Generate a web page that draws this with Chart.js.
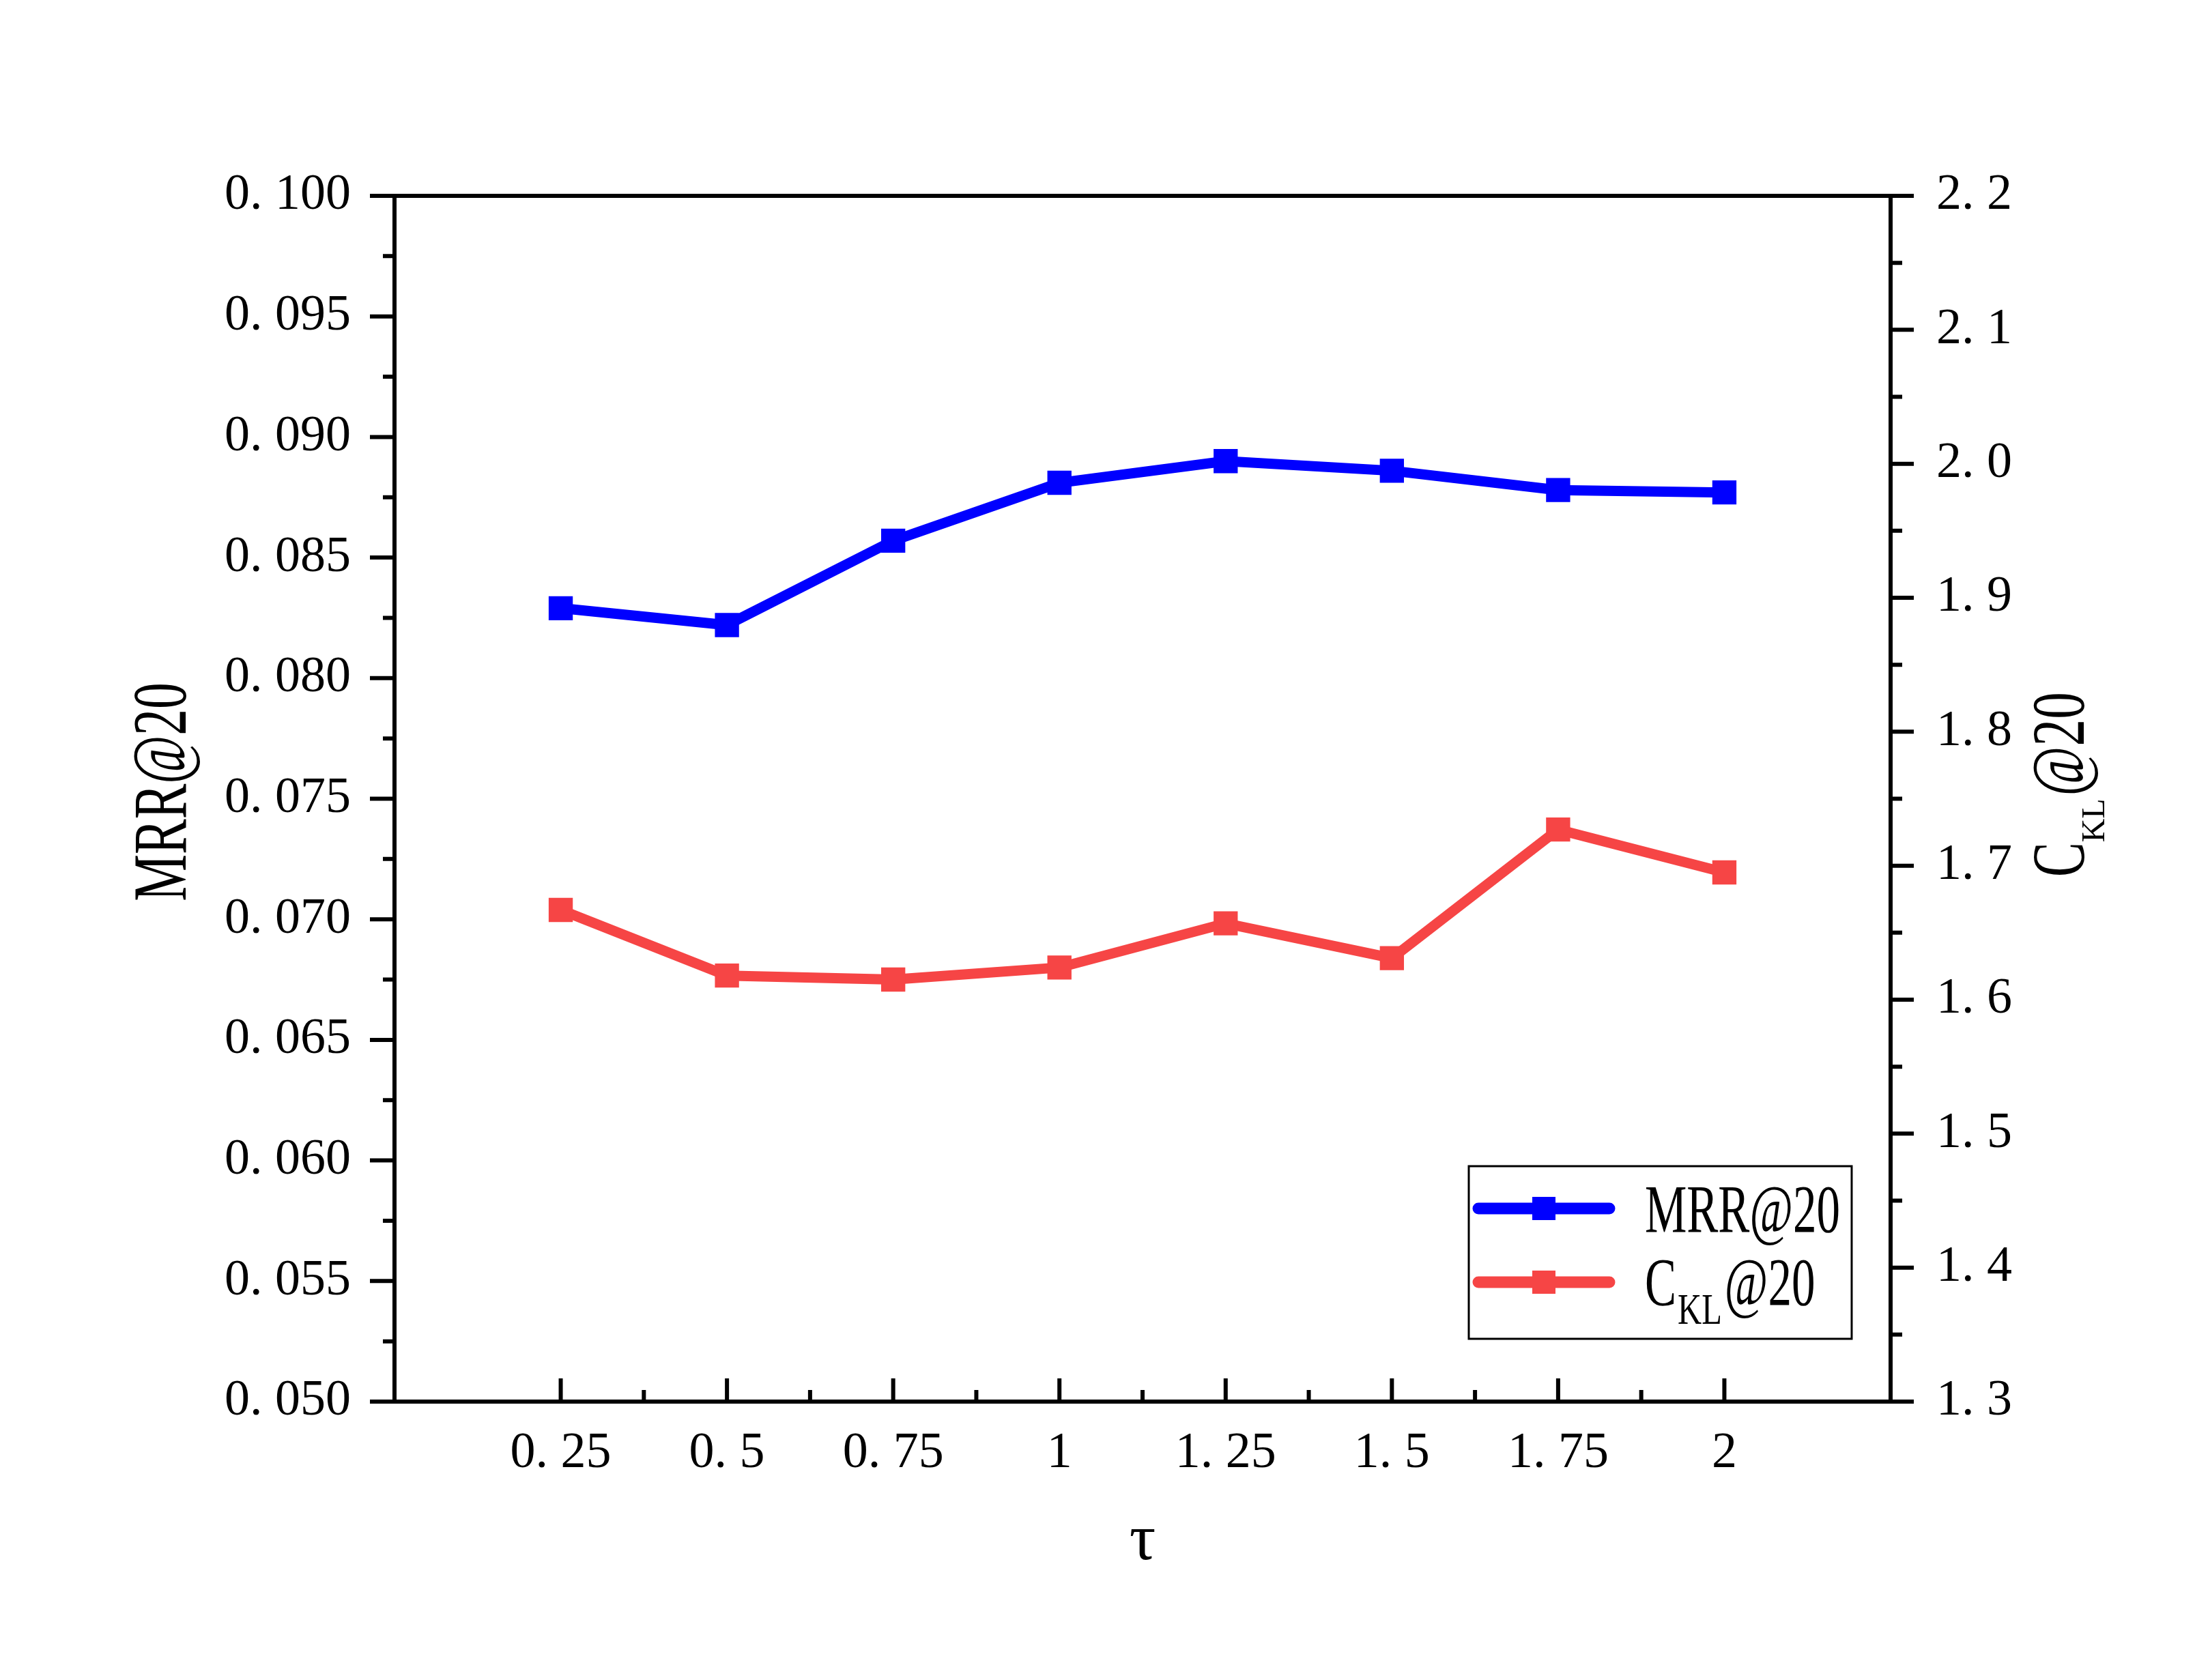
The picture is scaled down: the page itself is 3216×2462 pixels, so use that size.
<!DOCTYPE html>
<html>
<head>
<meta charset="utf-8">
<script src="https://cdn.jsdelivr.net/npm/chart.js@4.4.0/dist/chart.umd.min.js"></script>
<style>
  html, body { margin: 0; padding: 0; background: #fff; }
  #wrap { width: 3216px; height: 2462px; }
</style>
</head>
<body>
<div id="wrap"><canvas id="chart" width="3216" height="2462"></canvas></div>
<script>
// values
const tau = [0.25, 0.5, 0.75, 1, 1.25, 1.5, 1.75, 2];
const tauLabels = ['0. 25', '0. 5', '0. 75', '1', '1. 25', '1. 5', '1. 75', '2'];
const mrr = [0.0829, 0.0822, 0.0857, 0.0881, 0.0890, 0.0886, 0.0878, 0.0877];
const ckl = [1.667, 1.618, 1.615, 1.624, 1.657, 1.631, 1.727, 1.695];

const leftTicks = [0.050, 0.055, 0.060, 0.065, 0.070, 0.075, 0.080, 0.085, 0.090, 0.095, 0.100];
const leftTickLabels = ['0. 050', '0. 055', '0. 060', '0. 065', '0. 070', '0. 075',
                        '0. 080', '0. 085', '0. 090', '0. 095', '0. 100'];
const rightTicks = [1.3, 1.4, 1.5, 1.6, 1.7, 1.8, 1.9, 2.0, 2.1, 2.2];
const rightTickLabels = ['1. 3', '1. 4', '1. 5', '1. 6', '1. 7', '1. 8', '1. 9', '2. 0', '2. 1', '2. 2'];

const BLUE = '#0000FF';
const RED = '#F64545';
const SERIF = '"Liberation Serif", "Times New Roman", serif';
const tickFont = {family: SERIF, size: 74};

function mids(arr) {
    const out = [];
    for (let i = 0; i < arr.length - 1; i++) out.push((arr[i] + arr[i + 1]) / 2);
    return out;
}

// text squeezed horizontally, returns drawn width
function squeezed(ctx, text, x, y, size, sx) {
    ctx.save();
    ctx.translate(x, y);
    ctx.scale(sx, 1);
    ctx.font = size + 'px ' + SERIF;
    ctx.fillText(text, 0, 0);
    const w = ctx.measureText(text).width * sx;
    ctx.restore();
    return w;
}

const frame = {
    id: 'frame',
    beforeDatasetsDraw(chart) {
        const ctx = chart.ctx;
        const a = chart.chartArea;
        const sx = chart.scales.x, yl = chart.scales.yL, yr = chart.scales.yR;
        ctx.save();
        ctx.strokeStyle = '#000';
        ctx.lineWidth = 6;
        ctx.lineCap = 'butt';
        ctx.beginPath();
        // left axis ticks (outside)
        leftTicks.forEach(v => { const p = yl.getPixelForValue(v); ctx.moveTo(a.left, p); ctx.lineTo(a.left - 36, p); });
        mids(leftTicks).forEach(v => { const p = yl.getPixelForValue(v); ctx.moveTo(a.left, p); ctx.lineTo(a.left - 17, p); });
        // right axis ticks (outside)
        rightTicks.forEach(v => { const p = yr.getPixelForValue(v); ctx.moveTo(a.right, p); ctx.lineTo(a.right + 34, p); });
        mids(rightTicks).forEach(v => { const p = yr.getPixelForValue(v); ctx.moveTo(a.right, p); ctx.lineTo(a.right + 17, p); });
        // bottom ticks (inside)
        tau.forEach(v => { const p = sx.getPixelForValue(v); ctx.moveTo(p, a.bottom); ctx.lineTo(p, a.bottom - 34); });
        mids(tau).forEach(v => { const p = sx.getPixelForValue(v); ctx.moveTo(p, a.bottom); ctx.lineTo(p, a.bottom - 17); });
        ctx.stroke();
        ctx.lineJoin = 'miter';
        ctx.strokeRect(a.left, a.top, a.right - a.left, a.bottom - a.top);
        ctx.restore();
    },
    afterDraw(chart) {
        const ctx = chart.ctx;
        const a = chart.chartArea;
        ctx.save();
        ctx.fillStyle = '#000';
        ctx.textBaseline = 'alphabetic';

        // x title
        ctx.textAlign = 'center';
        ctx.font = '96px ' + SERIF;
        ctx.fillText('τ', (a.left + a.right) / 2, 2285);

        // left title
        ctx.save();
        ctx.translate(272, (a.top + a.bottom) / 2 - 10);
        ctx.rotate(-Math.PI / 2);
        ctx.scale(0.69, 1);
        ctx.font = '112px ' + SERIF;
        ctx.fillText('MRR@20', 0, 0);
        ctx.restore();

        // right title with subscript
        ctx.textAlign = 'left';
        ctx.save();
        ctx.translate(3053, 1285);
        ctx.rotate(-Math.PI / 2);
        let w = squeezed(ctx, 'C', 0, 0, 110, 0.69);
        w += squeezed(ctx, 'KL', w, 30, 48, 1.0);
        squeezed(ctx, '@20', w + 4, 0, 110, 0.72);
        ctx.restore();

        // legend
        const box = {l: 2152, t: 1709, r: 2713, b: 1962};
        ctx.lineWidth = 3;
        ctx.strokeStyle = '#000';
        ctx.strokeRect(box.l, box.t, box.r - box.l, box.b - box.t);
        const rows = [{y: 1771, color: BLUE}, {y: 1879, color: RED}];
        rows.forEach(r => {
            ctx.strokeStyle = r.color;
            ctx.fillStyle = r.color;
            ctx.lineWidth = 17;
            ctx.lineCap = 'round';
            ctx.beginPath();
            ctx.moveTo(2166, r.y);
            ctx.lineTo(2358, r.y);
            ctx.stroke();
            ctx.fillRect(2262 - 17, r.y - 17, 34, 34);
        });
        ctx.fillStyle = '#000';
        squeezed(ctx, 'MRR@20', 2410, 1805, 100, 0.69);
        let lw = squeezed(ctx, 'C', 2410, 1912, 100, 0.69);
        lw += squeezed(ctx, 'KL', 2410 + lw + 2, 1940, 64, 0.76);
        squeezed(ctx, '@20', 2410 + lw + 6, 1912, 100, 0.69);
        ctx.restore();
    }
};

const ctx = document.getElementById('chart');
new Chart(ctx, {
    type: 'line',
    data: {
        datasets: [{
            label: 'MRR@20',
            data: tau.map((t, i) => ({x: t, y: mrr[i]})),
            yAxisID: 'yL',
            borderColor: BLUE,
            backgroundColor: BLUE,
            borderWidth: 15,
            pointStyle: 'rect',
            pointRadius: 25,
            pointBorderWidth: 0,
            pointBackgroundColor: BLUE,
            tension: 0,
        }, {
            label: 'C_KL@20',
            data: tau.map((t, i) => ({x: t, y: ckl[i]})),
            yAxisID: 'yR',
            borderColor: RED,
            backgroundColor: RED,
            borderWidth: 15,
            pointStyle: 'rect',
            pointRadius: 25,
            pointBorderWidth: 0,
            pointBackgroundColor: RED,
            tension: 0,
        }],
    },
    options: {
        responsive: false,
        devicePixelRatio: 1,
        animation: false,
        layout: {padding: {top: 287, left: 0, right: 0, bottom: 0}},
        plugins: {
            legend: {display: false},
            tooltip: {enabled: false},
        },
        scales: {
            x: {
                type: 'linear',
                min: 0,
                max: 2.25,
                afterBuildTicks: s => { s.ticks = tau.map(v => ({value: v})); },
                afterFit: s => { s.height = 2462 - 2054; },
                grid: {display: false, drawTicks: false},
                border: {display: false},
                ticks: {
                    font: tickFont,
                    color: '#000',
                    padding: 32,
                    autoSkip: false,
                    maxRotation: 0,
                    callback: (v, i) => tauLabels[i],
                },
            },
            yL: {
                type: 'linear',
                position: 'left',
                min: 0.05,
                max: 0.1,
                afterBuildTicks: s => { s.ticks = leftTicks.map(v => ({value: v})); },
                afterFit: s => { s.width = 578; },
                grid: {display: false, drawTicks: false},
                border: {display: false},
                ticks: {
                    font: tickFont,
                    color: '#000',
                    padding: 64,
                    autoSkip: false,
                    callback: (v, i) => leftTickLabels[i],
                },
            },
            yR: {
                type: 'linear',
                position: 'right',
                min: 1.3,
                max: 2.2,
                afterBuildTicks: s => { s.ticks = rightTicks.map(v => ({value: v})); },
                afterFit: s => { s.width = 3216 - 2770; },
                grid: {display: false, drawTicks: false},
                border: {display: false},
                ticks: {
                    font: tickFont,
                    color: '#000',
                    padding: 67,
                    autoSkip: false,
                    callback: (v, i) => rightTickLabels[i],
                },
            },
        },
    },
    plugins: [frame],
});
</script>
</body>
</html>
